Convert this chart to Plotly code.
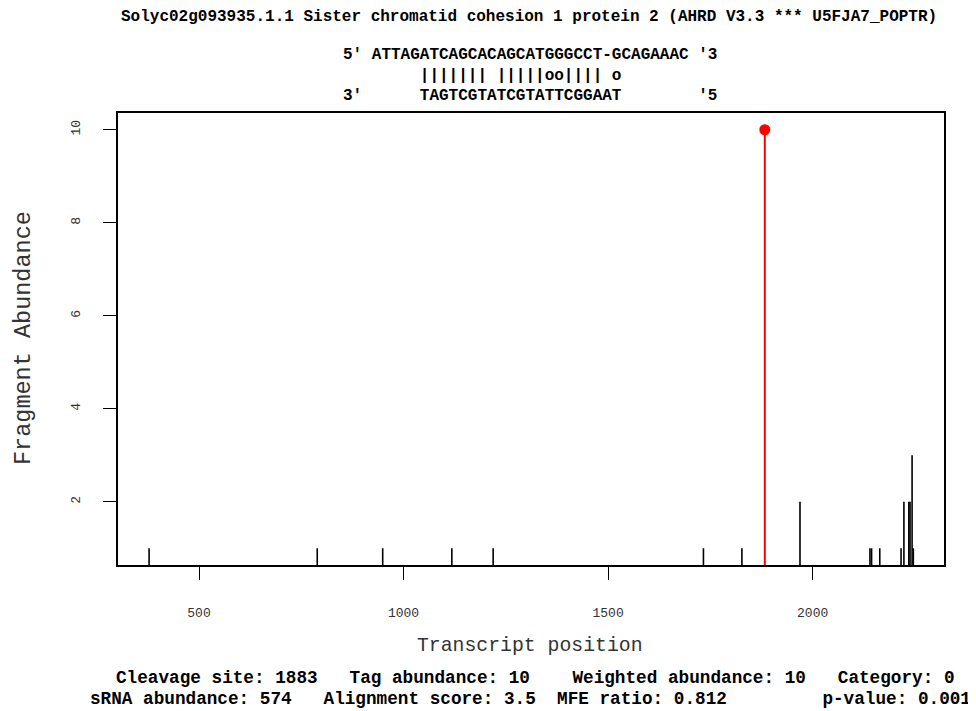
import plotly.graph_objects as go

# ---- data ----
positions = [378, 789, 949, 1118, 1219, 1733, 1827, 1969, 2140, 2144, 2164,
             2216, 2223, 2235, 2238, 2243, 2246]
abundance = [1, 1, 1, 1, 1, 1, 1, 2, 1, 1, 1, 1, 2, 2, 2, 3, 1]
cleavage_pos = [1883]
cleavage_abund = [10]

x_ticks = [500, 1000, 1500, 2000]
y_ticks = [2, 4, 6, 8, 10]

title_text = "Solyc02g093935.1.1 Sister chromatid cohesion 1 protein 2 (AHRD V3.3 *** U5FJA7_POPTR)"
align_lines = [
    "5' ATTAGATCAGCACAGCATGGGCCT-GCAGAAAC '3",
    "        ||||||| |||||oo|||| o",
    "3'      TAGTCGTATCGTATTCGGAAT        '5",
]
footer_lines = [
    "Cleavage site: 1883   Tag abundance: 10    Weighted abundance: 10   Category: 0",
    "sRNA abundance: 574   Alignment score: 3.5  MFE ratio: 0.812         p-value: 0.001",
]


def nb(s):
    return s.replace(" ", "\u00a0")


def stems(xs, ys):
    sx, sy = [], []
    for x, y in zip(xs, ys):
        sx += [x, x, None]
        sy += [0, y, None]
    return sx, sy


OFF = 8  # page body margin
W, H = 976 - OFF, 711 - OFF
# plot box in window pixels: x 118..944, y 113..565
L, R, T, B = 118 - OFF, 976 - 944, 113 - OFF, 711 - 565
pw, ph = W - L - R, H - T - B


def px(xp):
    return (xp - OFF - L) / pw


def py(yp):
    return (H - B - (yp - OFF)) / ph


fig = go.Figure()
bx, by = stems(positions, abundance)
fig.add_trace(go.Scatter(x=bx, y=by, mode="lines",
                         line=dict(color="black", width=1.6),
                         hoverinfo="skip", showlegend=False))
rx, ry = stems(cleavage_pos, cleavage_abund)
fig.add_trace(go.Scatter(x=rx, y=ry, mode="lines",
                         line=dict(color="#ff0000", width=2),
                         hoverinfo="skip", showlegend=False))
fig.add_trace(go.Scatter(x=cleavage_pos, y=cleavage_abund, mode="markers",
                         marker=dict(color="#ff0000", size=11),
                         cliponaxis=False, showlegend=False))

mono = "Liberation Mono, Courier New, monospace"
fig.update_layout(
    width=W, height=H,
    margin=dict(l=L, r=R, t=T, b=B, pad=0),
    paper_bgcolor="white", plot_bgcolor="white",
    showlegend=False,
    font=dict(family=mono, color="black"),
    xaxis=dict(range=[302, 2321], tickvals=x_ticks, ticks="outside",
               ticklen=13, tickwidth=1.3, tickcolor="black",
               showgrid=False, zeroline=False,
               showline=True, mirror=True, linecolor="black", linewidth=1.5,
               tickfont=dict(family=mono, size=13, color="#333"),
               ticklabelstandoff=22),
    yaxis=dict(range=[0.64, 10.36], tickvals=y_ticks, ticks="outside",
               ticklen=13, tickwidth=1.3, tickcolor="black",
               showgrid=False, zeroline=False,
               showline=True, mirror=True, linecolor="black", linewidth=1.5,
               tickangle=-90,
               tickfont=dict(family=mono, size=13, color="#333"),
               ticklabelstandoff=18),
)

ann = []
ann.append(dict(text=nb(title_text), x=px(529), y=py(17), xref="paper", yref="paper",
                xanchor="center", yanchor="middle", showarrow=False,
                font=dict(family=mono, size=16, color="black", weight="bold")))
for t, yy in zip(align_lines, [55, 76, 96]):
    ann.append(dict(text=nb(t), x=px(341), y=py(yy), xref="paper", yref="paper",
                    xanchor="left", yanchor="middle", showarrow=False,
                    font=dict(family=mono, size=16, color="black", weight="bold")))
for t, yy, xx in zip(footer_lines, [678, 699], [114, 88]):
    ann.append(dict(text=nb(t), x=px(xx), y=py(yy), xref="paper", yref="paper",
                    xanchor="left", yanchor="middle", showarrow=False,
                    font=dict(family=mono, size=17.7, color="black", weight="bold")))
ann.append(dict(text="Transcript position", x=px(530), y=py(646), xref="paper", yref="paper",
                xanchor="center", yanchor="middle", showarrow=False,
                font=dict(family=mono, size=19.8, color="#333")))
ann.append(dict(text="Fragment Abundance", x=px(23), y=py(338), xref="paper", yref="paper",
                xanchor="center", yanchor="middle", showarrow=False, textangle=-90,
                font=dict(family=mono, size=23.5, color="#333")))
fig.update_layout(annotations=ann)

fig.write_html("out.html")
